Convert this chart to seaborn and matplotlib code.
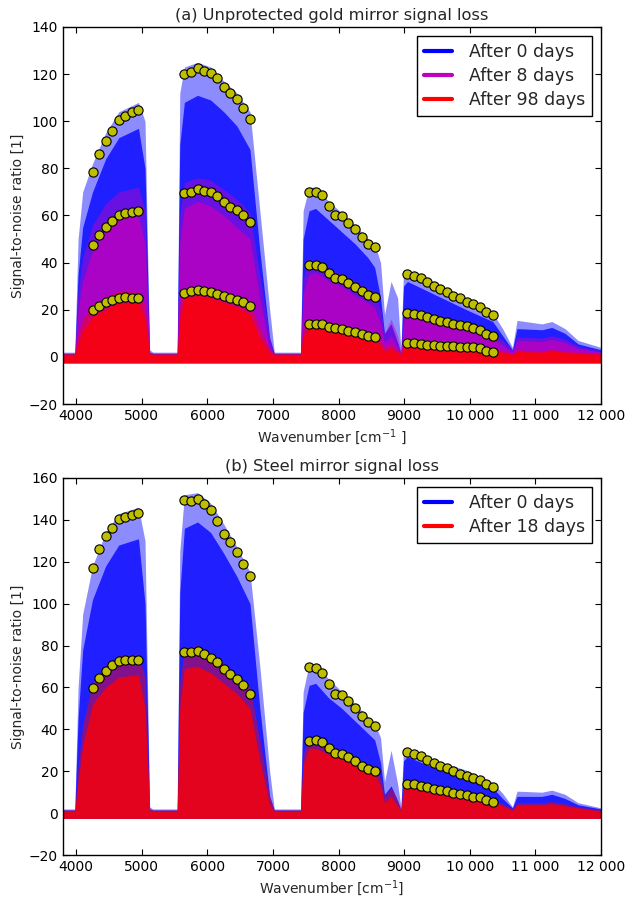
import matplotlib
matplotlib.use("Agg")
import matplotlib.pyplot as plt
from matplotlib.lines import Line2D
import seaborn as sns
import pandas as pd

# ---------------- data ----------------
wavenumber = [3800, 3980, 4030, 4100, 4250, 4450, 4650, 4950, 5050, 5120,
              5170, 5540, 5580, 5650, 5850, 6050, 6250, 6450, 6650, 6800,
              6950, 7020, 7420, 7460, 7550, 7650, 7850, 8050, 8250, 8450,
              8550, 8640, 8700, 8800, 8900, 8950, 8990, 9050, 9350, 9650,
              9950, 10350, 10500, 10650, 10720, 11100, 11250, 11450, 11650, 12000]

noise_floor = -2.5

# Panel (a): unprotected gold mirror -- envelope peaks (top) and dense level
gold_d0_top = [2, 2, 50, 70, 82, 95, 104, 108, 100, 3,
               2, 2, 112, 123, 125, 123, 117, 112, 104, 62,
               20, 2, 2, 62, 72, 72, 66, 61, 56, 50,
               48, 40, 18, 32, 25, 3, 37, 37, 32, 28,
               24, 18.5, 12, 4, 15.5, 14, 15, 12, 7, 4]
gold_d0_dense = [1.5, 1.5, 35, 55, 70, 84, 93, 97, 80, 2,
                 1.5, 1.5, 90, 108, 111, 109, 104, 98, 88, 45,
                 8, 1.5, 1.5, 50, 62, 63, 58, 53, 48, 42,
                 38, 25, 10, 14, 6, 1.5, 30, 32, 28, 24,
                 20, 15, 9, 3, 12, 11.5, 12.5, 10, 5.5, 3]
gold_d8_top = [1.5, 1.5, 28, 42, 56, 65, 70, 72, 62, 2,
               1.5, 1.5, 60, 74, 76, 75, 71, 67, 61, 35,
               8, 1.5, 1.5, 33, 41, 41, 37, 35, 32, 29,
               27, 20, 10, 16, 9, 2, 19, 20, 18, 16,
               14, 10, 7, 3, 8.5, 8, 9, 7.5, 4.5, 2.5]
gold_d8_dense = [1, 1, 20, 32, 45, 54, 59, 60, 48, 1.5,
                 1, 1, 48, 63, 66, 64, 60, 55, 50, 25,
                 4, 1, 1, 27, 35, 36, 32, 30, 26, 23,
                 21, 14, 6, 9, 4, 1, 15, 17, 15, 13,
                 11, 8, 5, 2, 7, 6.5, 7.5, 6, 3.5, 2]
gold_d98_top = [1.5, 1.5, 10, 16, 22, 25.5, 28, 27.5, 22, 2,
                1.5, 1.5, 22, 29, 30, 29.5, 28, 25.5, 22.5, 12,
                3, 1.5, 1.5, 12, 15, 15, 13.5, 12.5, 11.5, 10,
                9.5, 7, 4, 5.5, 3, 1.5, 6.5, 7, 6.5, 5.5,
                5, 3.5, 2.5, 1.5, 3, 2.5, 3.2, 2.5, 2, 1.5]
gold_d98_dense = [1, 1, 6, 11, 17, 20, 23, 23, 16, 1.5,
                  1, 1, 16, 25, 26, 25, 23, 21, 18, 8,
                  2, 1, 1, 9, 12, 12.5, 11, 10, 9, 8,
                  7, 5, 2.5, 3.5, 2, 1, 5, 5.8, 5.2, 4.5,
                  4, 2.8, 2, 1, 2.3, 2, 2.5, 2, 1.5, 1]

# Panel (b): steel mirror
steel_d0_top = [2, 2, 60, 95, 118, 134, 143, 146, 130, 3,
                2, 2, 125, 152, 153, 148, 138, 127, 115, 70,
                20, 2, 2, 58, 71, 71, 64, 58, 52, 46,
                43, 36, 15, 30, 14, 3, 31, 31, 26.5, 23.5,
                20.5, 14.5, 9.5, 3, 10.5, 10, 11, 9, 5, 2.5]
steel_d0_dense = [1.5, 1.5, 45, 78, 102, 118, 128, 131, 100, 2,
                  1.5, 1.5, 105, 136, 139, 134, 124, 113, 100, 50,
                  8, 1.5, 1.5, 48, 61, 62, 55, 50, 44, 38,
                  35, 24, 9, 13, 6, 1.5, 25, 27, 23, 20,
                  17.5, 12, 7, 2.5, 8, 8, 9, 7, 4, 2]
steel_d18_top = [1.5, 1.5, 22, 42, 62, 70, 75, 76, 65, 2,
                 1.5, 1.5, 62, 79, 80, 76, 71, 66, 60, 35,
                 8, 1.5, 1.5, 28, 36, 36, 32, 30, 26.5, 23,
                 22, 17, 8, 12, 6, 2, 15, 15.5, 13.5, 11.5,
                 10, 6.5, 4.5, 2, 5, 5, 5.5, 4.5, 3, 1.5]
steel_d18_dense = [1, 1, 15, 32, 52, 60, 65, 66, 50, 1.5,
                   1, 1, 50, 69, 70, 67, 62, 57, 50, 25,
                   4, 1, 1, 23, 31, 31, 28, 26, 23, 20,
                   18.5, 13, 5, 8, 3.5, 1, 12, 13, 11.5, 9.5,
                   8.5, 5.5, 3.5, 1.5, 4, 4, 4.5, 3.5, 2.5, 1]

# Marked points (yellow dots)
dot_x = [4250, 4350, 4450, 4550, 4650, 4750, 4850, 4950,
         5650, 5750, 5850, 5950, 6050, 6150, 6250, 6350, 6450, 6550, 6650,
         7550, 7650, 7750, 7850, 7950, 8050, 8150, 8250, 8350, 8450, 8550,
         9050, 9150, 9250, 9350, 9450, 9550, 9650, 9750, 9850, 9950,
         10050, 10150, 10250, 10350]

gold_dots_d0 = [78.6, 86.0, 91.8, 96.0, 100.5, 102.1, 103.8, 104.9,
                120.0, 121.0, 122.7, 121.4, 120.6, 118.4, 114.5, 112.1, 109.6, 105.8, 101.0,
                69.8, 70.0, 68.6, 64.0, 60.3, 59.6, 57.0, 54.2, 50.8, 48.1, 46.5,
                35.2, 34.2, 33.3, 31.6, 29.9, 28.7, 27.4, 26.0, 24.8, 23.4,
                22.4, 21.1, 19.1, 17.7]
gold_dots_d8 = [47.4, 51.9, 55.3, 57.7, 60.3, 61.0, 61.6, 62.1,
                69.4, 70.1, 71.3, 70.3, 69.8, 68.2, 65.8, 63.8, 62.4, 60.4, 57.3,
                38.9, 39.0, 38.3, 35.5, 33.5, 32.9, 31.5, 29.6, 27.9, 26.2, 25.2,
                18.7, 18.3, 17.6, 16.9, 16.0, 15.3, 14.6, 13.9, 13.5, 12.9,
                12.2, 11.6, 9.8, 8.9]
gold_dots_d98 = [19.7, 21.7, 23.3, 24.3, 25.1, 25.2, 25.0, 25.0,
                 27.1, 27.8, 28.4, 27.9, 27.5, 26.8, 25.8, 25.1, 24.3, 23.1, 21.4,
                 13.8, 13.9, 13.8, 12.6, 12.2, 11.8, 11.1, 10.4, 9.6, 8.9, 8.4,
                 5.8, 5.7, 5.5, 5.2, 5.0, 4.8, 4.7, 4.5, 4.4, 4.3,
                 4.0, 3.7, 2.4, 2.0]
steel_dots_d0 = [117.0, 125.9, 132.2, 136.3, 140.6, 141.6, 142.4, 143.2,
                 149.5, 149.2, 150.0, 147.5, 144.6, 139.7, 133.3, 129.4, 124.9, 119.0, 113.0,
                 69.7, 69.4, 67.1, 61.6, 57.1, 56.3, 53.3, 50.2, 46.5, 43.7, 41.6,
                 29.4, 28.1, 27.1, 25.6, 24.0, 22.7, 21.4, 20.0, 18.7, 17.8,
                 16.8, 15.6, 13.8, 12.7]
steel_dots_d18 = [59.7, 64.4, 67.9, 70.5, 72.5, 72.9, 72.9, 72.9,
                  76.7, 77.0, 77.5, 75.9, 74.3, 72.0, 68.9, 66.3, 64.0, 61.1, 57.1,
                  34.6, 34.8, 34.0, 31.1, 28.9, 28.4, 26.7, 24.8, 22.7, 21.3, 20.3,
                  14.1, 13.7, 13.0, 12.4, 11.6, 11.0, 10.5, 9.7, 9.2, 8.6,
                  7.9, 7.5, 6.2, 5.4]

xtick_values = [4000, 5000, 6000, 7000, 8000, 9000, 10000, 11000, 12000]
xtick_labels = ["4000", "5000", "6000", "7000", "8000", "9000",
                "10 000", "11 000", "12 000"]

# ---------------- style ----------------
sns.set_style("ticks")
plt.rcParams.update({
    "font.family": ["DejaVu Sans"],
    "xtick.direction": "in",
    "ytick.direction": "in",
    "xtick.top": True,
    "ytick.right": True,
    "xtick.major.size": 4,
    "ytick.major.size": 4,
    "axes.linewidth": 1.0,
    "axes.edgecolor": "black",
    "xtick.labelsize": 10,
    "ytick.labelsize": 10,
    "xtick.color": "black",
    "ytick.color": "black",
})

fig = plt.figure(figsize=(6.3, 8.99), dpi=100)
ax_a = fig.add_axes([0.1, 0.5506, 0.854, 0.4194])
ax_b = fig.add_axes([0.1, 0.0489, 0.854, 0.4194])

series_a = [
    ("After 0 days", "#0000ff", gold_d0_top, gold_d0_dense, gold_dots_d0),
    ("After 8 days", "#bf00bf", gold_d8_top, gold_d8_dense, gold_dots_d8),
    ("After 98 days", "#ff0000", gold_d98_top, gold_d98_dense, gold_dots_d98),
]
series_b = [
    ("After 0 days", "#0000ff", steel_d0_top, steel_d0_dense, steel_dots_d0),
    ("After 18 days", "#ff0000", steel_d18_top, steel_d18_dense, steel_dots_d18),
]


def draw_panel(ax, series, title, ylim, yticks, xlabel):
    for label, color, top, dense, dots in series:
        df = pd.DataFrame({"x": wavenumber, "top": top, "dense": dense})
        ax.fill_between(df["x"], noise_floor, df["top"], color=color,
                        alpha=0.45, linewidth=0)
        ax.fill_between(df["x"], noise_floor, df["dense"], color=color,
                        alpha=0.78, linewidth=0)
    for label, color, top, dense, dots in series:
        sns.scatterplot(x=dot_x, y=dots, ax=ax, color="#bfbf00",
                        edgecolor="black", linewidth=0.8, s=44, zorder=5,
                        legend=False)
    ax.set_xlim(3800, 12000)
    ax.set_ylim(*ylim)
    ax.set_yticks(yticks)
    ax.set_xticks(xtick_values)
    ax.set_xticklabels(xtick_labels)
    ax.set_title(title, fontsize=11.7, pad=5)
    ax.set_xlabel(xlabel, fontsize=10, labelpad=3)
    ax.set_ylabel("Signal-to-noise ratio [1]", fontsize=10, labelpad=3)
    handles = [Line2D([0], [0], color=c, lw=3) for _, c, *_ in series]
    labels = [l for l, *_ in series]
    leg = ax.legend(handles, labels, loc="upper right", fontsize=12.5,
                    fancybox=False, framealpha=1, edgecolor="black",
                    handlelength=1.6, handletextpad=1.0,
                    borderaxespad=0.5, labelspacing=0.35)
    leg.get_frame().set_linewidth(1.0)


draw_panel(ax_a, series_a, "(a) Unprotected gold mirror signal loss",
           (-20, 140), list(range(-20, 141, 20)), "Wavenumber [cm$^{-1}$ ]")
draw_panel(ax_b, series_b, "(b) Steel mirror signal loss",
           (-20, 160), list(range(-20, 161, 20)), "Wavenumber [cm$^{-1}$]")

fig.savefig("out.png", dpi=100)
